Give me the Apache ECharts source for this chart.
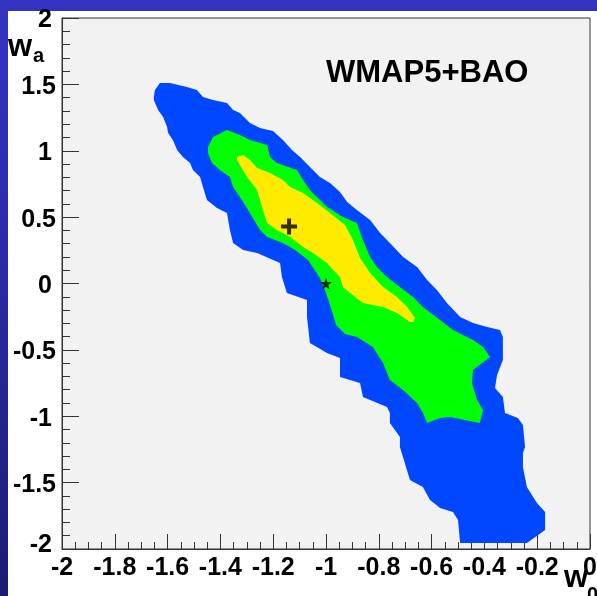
<!DOCTYPE html>
<html>
<head>
<meta charset="utf-8">
<title>w0 - wa constraints</title>
<script src="https://cdn.jsdelivr.net/npm/echarts@6.0.0/dist/echarts.min.js"></script>
<style>
  html, body { margin: 0; padding: 0; }
  body {
    width: 597px; height: 596px; overflow: hidden; position: relative;
    background: linear-gradient(to bottom, #3434c4 0%, #2a2aa6 45%, #1c1c72 100%);
  }
  #panel { position: absolute; left: 8px; top: 11px; right: 0; bottom: 0; background: #ffffff; }
  #chart { position: absolute; left: 0; top: 0; width: 597px; height: 596px; }
</style>
</head>
<body>
<div id="panel"></div>
<div id="chart"></div>
<script>
// Axis ranges and tick spacing
const w0Range = [-2, 0];
const waRange = [-2, 2];
const w0Step = 0.2;
const waStep = 0.5;

// Confidence contours in the (w0, wa) plane, outer to inner
const contour95 = [
  [-1.652, 1.405], [-1.648, 1.458], [-1.629, 1.510], [-1.591, 1.510], [-1.527, 1.480],
  [-1.489, 1.458], [-1.466, 1.405], [-1.428, 1.382], [-1.375, 1.360], [-1.352, 1.307],
  [-1.326, 1.284], [-1.288, 1.209], [-1.250, 1.171], [-1.201, 1.149], [-1.163, 1.081],
  [-1.129, 1.006], [-1.098, 0.953], [-1.061, 0.878], [-1.023, 0.802], [-0.985, 0.757],
  [-0.947, 0.689], [-0.920, 0.614], [-0.883, 0.554], [-0.833, 0.478], [-0.795, 0.380],
  [-0.758, 0.305], [-0.708, 0.200], [-0.655, 0.124], [-0.617, 0.026], [-0.580, -0.049],
  [-0.542, -0.147], [-0.492, -0.252], [-0.443, -0.298], [-0.390, -0.328], [-0.341, -0.350],
  [-0.330, -0.403], [-0.330, -0.576], [-0.352, -0.689], [-0.360, -0.787], [-0.330, -0.855],
  [-0.322, -0.976], [-0.273, -1.013], [-0.254, -1.066], [-0.246, -1.232], [-0.254, -1.277],
  [-0.254, -1.382], [-0.239, -1.533], [-0.201, -1.654], [-0.170, -1.721], [-0.170, -1.857],
  [-0.239, -1.955], [-0.492, -1.955], [-0.500, -1.782], [-0.519, -1.721], [-0.568, -1.691],
  [-0.606, -1.631], [-0.633, -1.533], [-0.682, -1.480], [-0.720, -1.232], [-0.720, -1.156],
  [-0.758, -1.051], [-0.758, -0.976], [-0.769, -0.930], [-0.860, -0.855], [-0.871, -0.750],
  [-0.947, -0.704], [-0.947, -0.561], [-0.996, -0.524], [-1.061, -0.448], [-1.072, -0.252],
  [-1.072, -0.124], [-1.148, -0.072], [-1.167, 0.049], [-1.174, 0.154], [-1.261, 0.230],
  [-1.314, 0.252], [-1.352, 0.305], [-1.364, 0.403], [-1.375, 0.531], [-1.413, 0.569],
  [-1.451, 0.629], [-1.466, 0.727], [-1.477, 0.802], [-1.504, 0.855], [-1.515, 0.908],
  [-1.542, 0.953], [-1.564, 1.006], [-1.580, 1.081], [-1.598, 1.134], [-1.602, 1.179],
  [-1.617, 1.254], [-1.636, 1.307], [-1.652, 1.382]
];

const contour68 = [
  [-1.447, 1.028], [-1.439, 1.058], [-1.428, 1.104], [-1.375, 1.156], [-1.326, 1.119],
  [-1.288, 1.081], [-1.223, 1.043], [-1.212, 0.953], [-1.186, 0.908], [-1.110, 0.855],
  [-1.087, 0.780], [-1.061, 0.704], [-0.996, 0.576], [-0.936, 0.501], [-0.883, 0.456],
  [-0.860, 0.328], [-0.833, 0.200], [-0.807, 0.124], [-0.769, 0.049], [-0.720, -0.026],
  [-0.670, -0.102], [-0.633, -0.177], [-0.568, -0.275], [-0.519, -0.350], [-0.443, -0.426],
  [-0.405, -0.478], [-0.379, -0.554], [-0.443, -0.652], [-0.447, -0.750], [-0.428, -0.878],
  [-0.405, -0.953], [-0.417, -1.051], [-0.455, -1.036], [-0.530, -1.006], [-0.568, -1.013],
  [-0.617, -1.051], [-0.633, -0.976], [-0.655, -0.900], [-0.708, -0.802], [-0.758, -0.727],
  [-0.784, -0.599], [-0.822, -0.478], [-0.883, -0.403], [-0.928, -0.380], [-0.962, -0.313],
  [-0.973, -0.237], [-0.985, -0.162], [-1.004, -0.049], [-1.023, 0.041], [-1.068, 0.177],
  [-1.117, 0.252], [-1.163, 0.305], [-1.223, 0.350], [-1.250, 0.403], [-1.288, 0.531],
  [-1.326, 0.652], [-1.352, 0.727], [-1.364, 0.802], [-1.402, 0.855], [-1.432, 0.908],
  [-1.447, 0.983]
];

const contourCore = [
  [-1.337, 0.930], [-1.337, 0.953], [-1.314, 0.968], [-1.288, 0.930], [-1.261, 0.870],
  [-1.212, 0.832], [-1.163, 0.780], [-1.136, 0.727], [-1.087, 0.682], [-1.034, 0.606],
  [-0.985, 0.531], [-0.928, 0.441], [-0.898, 0.328], [-0.871, 0.192], [-0.833, 0.079],
  [-0.784, -0.026], [-0.731, -0.102], [-0.693, -0.177], [-0.663, -0.260], [-0.670, -0.290],
  [-0.682, -0.290], [-0.731, -0.222], [-0.784, -0.177], [-0.860, -0.147], [-0.909, -0.072],
  [-0.936, -0.026], [-0.947, 0.049], [-0.973, 0.102], [-0.996, 0.154], [-1.049, 0.230],
  [-1.087, 0.275], [-1.136, 0.350], [-1.186, 0.403], [-1.223, 0.456], [-1.239, 0.554],
  [-1.261, 0.704], [-1.299, 0.802], [-1.326, 0.893]
];

// Best-fit point and the cosmological-constant point
const bestFit = [[-1.14, 0.43]];
const lambdaCDM = [[-1, 0]];

const FONT = 'Liberation Sans, Arial, Helvetica, sans-serif';
const LABEL_SIZE = 25;

function contourSeries(points, color, z) {
  return {
    type: 'custom',
    coordinateSystem: 'cartesian2d',
    silent: true,
    z: z,
    data: [0],
    renderItem: function (params, api) {
      return {
        type: 'polygon',
        shape: { points: points.map(function (p) { return api.coord(p); }) },
        style: { fill: color, stroke: null }
      };
    }
  };
}

const plusPath = 'path://M6,0h4v6h6v4h-6v6h-4v-6h-6v-4h6z';
const starPath = 'path://M50,0L61,35L98,35L68,57L79,91L50,70L21,91L32,57L2,35L39,35Z';

const chart = echarts.init(document.getElementById('chart'), null, { renderer: 'canvas' });

function labelStyle(extra) {
  return Object.assign({ fontFamily: FONT, fontWeight: 'bold', fontSize: LABEL_SIZE, color: '#000' }, extra);
}

chart.setOption({
  animation: false,
  backgroundColor: 'transparent',
  grid: {
    left: 62, top: 18, right: 7, bottom: 47,
    show: true, backgroundColor: '#f2f2f2', borderColor: '#333', borderWidth: 1,
    outerBoundsMode: 'none'
  },
  xAxis: {
    type: 'value', min: w0Range[0], max: w0Range[1], interval: w0Step,
    splitLine: { show: false },
    axisLine: { show: true, onZero: false, lineStyle: { color: '#333', width: 1 } },
    axisTick: { show: true, inside: true, length: 15, lineStyle: { color: '#333', width: 1 } },
    minorTick: { show: true, splitNumber: 4, length: 7, lineStyle: { color: '#333', width: 1 } },
    minorSplitLine: { show: false },
    axisLabel: Object.assign(labelStyle({}), {
      show: true, margin: 7,
      showMinLabel: true, showMaxLabel: true, hideOverlap: false,
      formatter: function (v) { return String(Math.round(v * 10) / 10); }
    })
  },
  yAxis: {
    type: 'value', min: waRange[0], max: waRange[1], interval: waStep,
    splitLine: { show: false },
    axisLine: { show: true, onZero: false, lineStyle: { color: '#333', width: 1 } },
    axisTick: { show: true, inside: true, length: 17, lineStyle: { color: '#333', width: 1 } },
    minorTick: { show: true, splitNumber: 5, length: 8, lineStyle: { color: '#333', width: 1 } },
    minorSplitLine: { show: false },
    axisLabel: Object.assign(labelStyle({}), {
      show: true, margin: 6,
      showMinLabel: true, showMaxLabel: true, hideOverlap: false,
      formatter: function (v) {
        const t = String(Math.round(v * 10) / 10);
        if (v === waRange[0]) return '{b|' + t + '}';
        return Number.isInteger(v) ? '{i|' + t + '}' : '{d|' + t + '}';
      },
      rich: {
        i: labelStyle({ padding: [5, 4, 0, 0] }),
        d: labelStyle({ padding: [5, 0, 0, 0] }),
        b: labelStyle({ padding: [0, 4, 8, 0] })
      }
    })
  },
  graphic: [
    { type: 'text', x: 326, y: 73, silent: true,
      style: { text: 'WMAP5+BAO', fontFamily: FONT, fontWeight: 'bold', fontSize: 31, fill: '#000',
               textAlign: 'left', textVerticalAlign: 'middle' } },
    { type: 'text', x: 8, y: 47, silent: true,
      style: { text: 'w', fontFamily: FONT, fontWeight: 'bold', fontSize: 31, fill: '#000',
               textAlign: 'left', textVerticalAlign: 'middle' } },
    { type: 'text', x: 33, y: 56, silent: true,
      style: { text: 'a', fontFamily: FONT, fontWeight: 'bold', fontSize: 20, fill: '#000',
               textAlign: 'left', textVerticalAlign: 'middle' } },
    { type: 'text', x: 564, y: 578, silent: true,
      style: { text: 'w', fontFamily: FONT, fontWeight: 'bold', fontSize: 31, fill: '#000',
               textAlign: 'left', textVerticalAlign: 'middle' } },
    { type: 'text', x: 587, y: 595, silent: true,
      style: { text: '0', fontFamily: FONT, fontWeight: 'bold', fontSize: 20, fill: '#000',
               textAlign: 'left', textVerticalAlign: 'middle' } }
  ],
  series: [
    contourSeries(contour95, '#0047ff', 2),
    contourSeries(contour68, '#00ff00', 3),
    contourSeries(contourCore, '#ffeb00', 4),
    {
      type: 'scatter', z: 6, silent: true, data: bestFit,
      symbol: plusPath, symbolSize: 16,
      itemStyle: { color: '#000' }, emphasis: { disabled: true }
    },
    {
      type: 'scatter', z: 6, silent: true, data: lambdaCDM,
      symbol: starPath, symbolSize: 12,
      itemStyle: { color: '#000' }, emphasis: { disabled: true }
    }
  ]
});
</script>
</body>
</html>
